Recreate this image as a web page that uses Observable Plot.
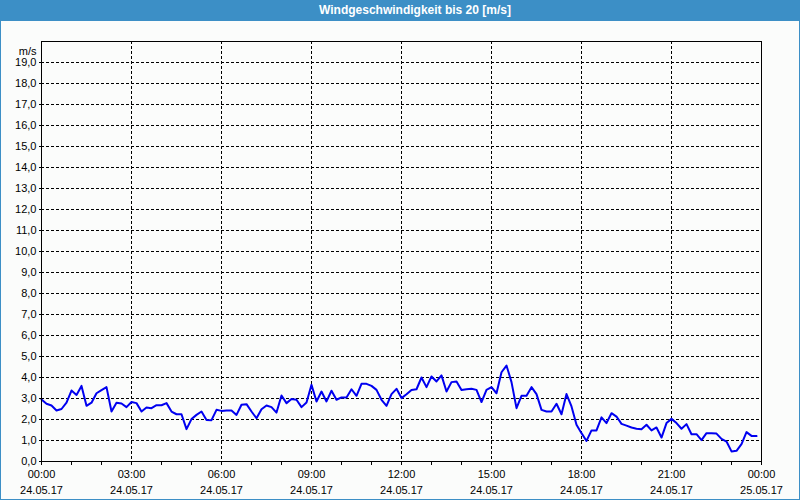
<!DOCTYPE html>
<html>
<head>
<meta charset="utf-8">
<script src="https://cdn.jsdelivr.net/npm/d3@7"></script>
<script src="https://cdn.jsdelivr.net/npm/@observablehq/plot@0.6"></script>
<style>
  html, body { margin: 0; padding: 0; background: #fff; }
  #wrap { position: relative; width: 800px; height: 500px; background: #fbfcfb; overflow: hidden; font-family: "Liberation Sans", Arial, sans-serif; }
  #title { position: absolute; left: 0; top: 0; width: 800px; height: 21px; background: #3c8fc6; color: #fff;
           font: bold 12px "Liberation Sans", Arial, sans-serif; line-height: 20px; }
  #title span { position: absolute; left: 415px; transform: translateX(-50%); white-space: nowrap; }
  #chart { position: absolute; left: 0; top: 21px; }
  .bl { position: absolute; background: #3c8fc6; }
</style>
</head>
<body>
<div id="wrap">
  <div id="title"><span>Windgeschwindigkeit bis 20 [m/s]</span></div>
  <div id="chart"></div>
  <div class="bl" style="left:0;top:0;width:1px;height:500px"></div>
  <div class="bl" style="right:0;top:0;width:1px;height:500px"></div>
  <div class="bl" style="left:0;bottom:0;width:800px;height:1px"></div>
</div>
<script>
// Wind speed [m/s], one reading every 10 minutes from 24.05.17 00:00
const intervalMinutes = 10;
const windSpeed = [
  2.95, 2.75, 2.67, 2.43, 2.50, 2.80, 3.38, 3.17, 3.60, 2.65, 2.80, 3.25,
  3.40, 3.54, 2.38, 2.80, 2.76, 2.59, 2.83, 2.78, 2.38, 2.57, 2.54, 2.68,
  2.68, 2.78, 2.38, 2.25, 2.25, 1.54, 2.02, 2.22, 2.38, 1.98, 1.97, 2.46,
  2.41, 2.43, 2.43, 2.22, 2.70, 2.73, 2.38, 2.06, 2.49, 2.67, 2.59, 2.33,
  3.14, 2.78, 2.98, 2.94, 2.59, 2.81, 3.65, 2.86, 3.33, 2.86, 3.37, 2.94,
  3.05, 3.05, 3.44, 3.13, 3.70, 3.70, 3.60, 3.41, 2.94, 2.65, 3.21, 3.46,
  3.02, 3.20, 3.41, 3.44, 4.00, 3.54, 4.05, 3.81, 4.10, 3.33, 3.78, 3.81,
  3.40, 3.44, 3.46, 3.41, 2.83, 3.41, 3.54, 3.25, 4.25, 4.57, 3.78, 2.54,
  3.13, 3.13, 3.54, 3.21, 2.46, 2.38, 2.38, 2.75, 2.25, 3.21, 2.62, 1.75,
  1.35, 0.98, 1.48, 1.48, 2.10, 1.83, 2.30, 2.14, 1.79, 1.71, 1.62, 1.56,
  1.54, 1.75, 1.48, 1.62, 1.14, 1.83, 2.03, 1.83, 1.56, 1.78, 1.30, 1.30,
  1.02, 1.35, 1.35, 1.33, 1.08, 0.95, 0.48, 0.51, 0.83, 1.40, 1.22, 1.21
];

// Axis ticks (minutes since 24.05.17 00:00)
const xLabelTicks = [0, 180, 360, 540, 720, 900, 1080, 1260, 1440];
const xTimeLabels = ["00:00", "03:00", "06:00", "09:00", "12:00", "15:00", "18:00", "21:00", "00:00"];
const xDateLabels = ["24.05.17", "24.05.17", "24.05.17", "24.05.17", "24.05.17", "24.05.17", "24.05.17", "24.05.17", "25.05.17"];
const xHourTicks = [0, 60, 120, 180, 240, 300, 360, 420, 480, 540, 600, 660, 720, 780, 840, 900,
                    960, 1020, 1080, 1140, 1200, 1260, 1320, 1380, 1440];
const xGridTicks = [180, 360, 540, 720, 900, 1080, 1260];
const yTicks = [0, 1, 2, 3, 4, 5, 6, 7, 8, 9, 10, 11, 12, 13, 14, 15, 16, 17, 18, 19];
const yTickLabels = ["0,0", "1,0", "2,0", "3,0", "4,0", "5,0", "6,0", "7,0", "8,0", "9,0",
                     "10,0", "11,0", "12,0", "13,0", "14,0", "15,0", "16,0", "17,0", "18,0", "19,0"];
const yUnit = "m/s";

const data = windSpeed.map((v, i) => ({t: i * intervalMinutes, v}));

const chart = Plot.plot({
  width: 800,
  height: 479,
  marginTop: 20,
  marginBottom: 39,
  marginLeft: 41,
  marginRight: 39,
  style: {fontFamily: "'Liberation Sans', Arial, sans-serif", fontSize: "11px", background: "transparent", color: "#000", overflow: "visible"},
  x: {domain: [0, 1440]},
  y: {domain: [0, 20]},
  marks: [
    Plot.gridY(yTicks.slice(1), {stroke: "#000", strokeOpacity: 1, strokeDasharray: "3,2"}),
    Plot.gridX(xGridTicks, {stroke: "#000", strokeOpacity: 1, strokeDasharray: "3,2"}),
    Plot.line(data, {x: "t", y: "v", stroke: "#0000f0", strokeWidth: 2}),
    Plot.frame({stroke: "#000"}),
    Plot.axisY({ticks: yTicks, tickSize: 2, tickPadding: 3, tickFormat: d => yTickLabels[yTicks.indexOf(d)], label: null}),
    Plot.text([yUnit], {frameAnchor: "top-left", dx: -5, dy: 6, textAnchor: "end", fill: "#000"}),
    Plot.axisX({ticks: xHourTicks, tickSize: 4, text: null, label: null}),
    Plot.axisX({ticks: xLabelTicks, tickSize: 0, tickPadding: 9, tickFormat: d => xTimeLabels[xLabelTicks.indexOf(d)], label: null}),
    Plot.axisX({ticks: xLabelTicks, tickSize: 0, tickPadding: 25, tickFormat: d => xDateLabels[xLabelTicks.indexOf(d)], label: null})
  ]
});
document.getElementById("chart").appendChild(chart);
</script>
</body>
</html>
